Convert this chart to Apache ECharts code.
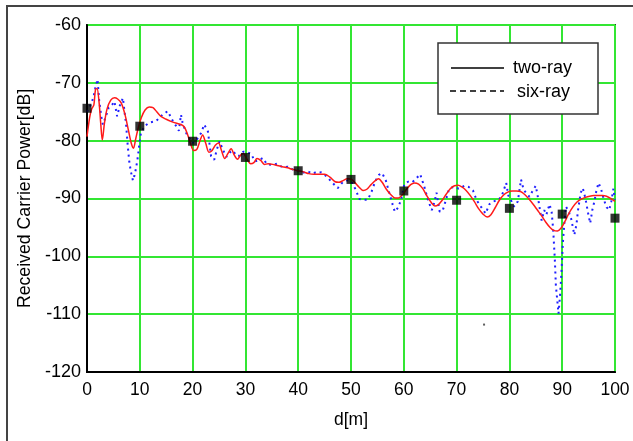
<!DOCTYPE html>
<html>
<head>
<meta charset="utf-8">
<script src="https://cdn.jsdelivr.net/npm/echarts@6/dist/echarts.min.js"></script>
<style>
html,body{margin:0;padding:0;background:#fff;}
#chart{width:633px;height:441px;}
</style>
</head>
<body>
<div id="chart"></div>
<script>
// x ticks and y ticks
const xTicks = [0, 10, 20, 30, 40, 50, 60, 70, 80, 90, 100];
const yTicks = [-120, -110, -100, -90, -80, -70, -60];
const legendNames = ['two-ray', 'six-ray'];

// two-ray model (red solid)
const twoRay = [
[0,-79.3],[0.5,-76.0],[0.9,-74.5],[1.3,-73.8],[1.6,-71.2],[1.9,-71.0],[2.3,-73.5],[2.6,-77.0],[2.9,-79.9],
[3.3,-77.0],[3.8,-74.5],[4.5,-73.0],[5.2,-72.6],[5.8,-72.8],[6.5,-73.5],[7.2,-75.5],[7.8,-78.0],[8.4,-80.5],
[8.8,-81.3],[9.2,-79.8],[9.7,-77.8],[10.3,-76.0],[11.0,-74.7],[11.8,-74.2],[12.5,-74.3],[13.2,-75.0],[14.0,-75.8],
[15.0,-76.3],[16.0,-76.7],[17.0,-77.0],[17.8,-77.2],[18.4,-77.6],[19.0,-78.8],[19.6,-80.5],[20.2,-81.7],[20.8,-81.5],
[21.4,-80.0],[21.9,-79.0],[22.5,-80.5],[23.1,-82.0],[23.6,-81.8],[24.3,-80.8],[24.9,-80.4],[25.5,-81.8],[26.1,-83.1],
[26.7,-82.2],[27.3,-81.4],[27.9,-82.5],[28.5,-83.2],[29.1,-82.5],[29.6,-82.2],[30.3,-83.2],[31.0,-84.0],[31.6,-83.8],
[32.2,-83.1],[32.9,-83.4],[33.6,-84.1],[34.3,-84.0],[35.2,-84.1],[36.0,-84.3],[37.0,-84.5],[38.0,-84.7],[39.0,-85.0],
[40.0,-85.2],[41.0,-85.4],[42.0,-85.7],[43.0,-85.8],[44.0,-85.8],[45.0,-85.8],[46.0,-86.3],[47.0,-87.1],[47.7,-87.2],
[48.5,-86.9],[49.3,-86.6],[50.1,-86.7],[50.8,-87.3],[51.5,-88.0],[52.3,-88.6],[53.0,-88.4],[53.8,-87.6],[54.6,-86.9],
[55.2,-86.6],[55.9,-87.2],[56.7,-88.4],[57.5,-89.3],[58.3,-89.9],[59.0,-89.9],[59.8,-89.3],[60.5,-88.4],[61.3,-87.6],
[62.0,-87.3],[62.8,-87.5],[63.6,-88.3],[64.4,-89.6],[65.2,-90.7],[65.9,-91.3],[66.5,-91.1],[67.2,-90.4],[68.0,-89.3],
[68.8,-88.3],[69.6,-87.8],[70.3,-87.7],[71.0,-88.0],[71.8,-88.6],[72.6,-89.5],[73.4,-90.6],[74.2,-91.8],[75.0,-92.7],
[75.8,-93.2],[76.5,-92.8],[77.3,-91.6],[78.1,-90.3],[78.9,-89.4],[79.7,-88.9],[80.5,-88.7],[81.3,-88.7],[82.1,-88.8],
[82.9,-89.3],[83.7,-90.1],[84.5,-91.0],[85.3,-92.0],[86.1,-93.0],[86.9,-94.1],[87.7,-95.0],[88.4,-95.5],[89.1,-95.6],
[89.8,-95.1],[90.5,-94.0],[91.2,-92.7],[92.0,-91.5],[92.8,-90.6],[93.6,-90.1],[94.4,-89.8],[95.2,-89.6],[96.0,-89.5],
[96.8,-89.5],[97.6,-89.5],[98.4,-89.6],[99.2,-90.0],[100,-90.5]
];

// six-ray model (blue dotted)
const sixRay = [
[0,-75.0],[0.6,-74.0],[1.2,-72.6],[1.6,-70.8],[2.0,-69.4],[2.3,-73.0],[2.7,-75.8],[3.0,-77.2],[3.5,-76.0],[4.1,-74.3],
[4.6,-74.0],[5.2,-73.2],[5.7,-75.8],[6.2,-74.0],[6.8,-72.6],[7.1,-74.9],[7.4,-77.2],[7.7,-80.7],[8.0,-83.6],[8.3,-85.3],
[8.7,-86.9],[9.0,-86.0],[9.3,-84.7],[9.6,-83.0],[9.9,-80.7],[10.2,-78.7],[10.9,-77.5],[11.8,-76.9],[13.1,-76.6],[14.3,-75.5],
[15.3,-74.9],[16.2,-76.5],[16.9,-77.5],[17.4,-78.3],[17.8,-75.5],[18.1,-76.9],[18.8,-78.7],[19.4,-79.6],[20.0,-80.4],[20.8,-79.8],
[21.6,-78.7],[22.2,-77.2],[22.9,-78.4],[23.5,-82.7],[24.1,-83.3],[24.6,-81.5],[25.1,-80.1],[25.7,-81.5],[26.4,-82.8],[27.1,-82.0],
[27.6,-81.7],[28.3,-82.6],[28.9,-82.6],[29.6,-81.9],[30.4,-82.0],[31.1,-82.3],[31.8,-83.6],[32.5,-83.4],[33.3,-83.0],[34.1,-84.1],
[35.0,-84.2],[36.0,-84.0],[37.0,-84.6],[38.0,-84.5],[39.0,-85.0],[40.0,-85.2],[41.0,-85.5],[41.8,-85.3],[42.7,-85.7],[43.5,-85.4],
[44.4,-85.5],[45.4,-86.2],[46.5,-87.3],[47.5,-88.2],[48.4,-87.2],[49.5,-86.8],[50.3,-87.4],[50.9,-88.5],[51.6,-90.1],[52.5,-90.2],
[53.2,-90.2],[53.9,-88.8],[54.6,-87.0],[55.3,-85.9],[55.9,-85.6],[56.6,-86.9],[57.3,-89.2],[57.9,-91.1],[58.3,-92.3],[58.9,-91.6],
[59.5,-90.2],[60.1,-87.5],[60.8,-87.1],[61.6,-87.2],[62.4,-86.5],[63.1,-85.8],[63.9,-88.0],[64.6,-90.3],[65.3,-92.0],[65.8,-90.6],
[66.2,-89.0],[66.8,-92.3],[67.4,-92.0],[67.9,-90.5],[68.6,-88.3],[69.4,-88.0],[70.4,-88.3],[71.5,-87.8],[72.3,-88.0],[73.1,-88.6],
[73.8,-90.3],[74.6,-91.4],[75.5,-92.6],[76.2,-91.0],[77.0,-90.5],[77.8,-90.3],[78.5,-89.7],[79.4,-87.3],[79.8,-89.5],[80.4,-90.5],
[80.9,-91.4],[81.6,-90.5],[82.2,-86.7],[82.7,-88.5],[83.3,-89.2],[83.8,-89.7],[84.5,-88.5],[85.0,-87.8],[85.4,-89.8],[85.8,-92.0],
[86.1,-93.8],[86.6,-92.0],[87.0,-92.8],[87.6,-91.0],[88.0,-92.3],[88.3,-95.5],[88.6,-100.5],[88.8,-105.0],[89.3,-109.9],[89.6,-106.7],
[89.9,-102.1],[90.1,-98.0],[90.4,-94.3],[90.7,-91.4],[91.2,-92.2],[91.7,-93.5],[92.3,-96.3],[92.7,-94.5],[93.0,-92.0],[93.5,-89.0],
[93.9,-88.2],[94.4,-90.0],[94.9,-92.5],[95.3,-94.3],[95.7,-92.0],[96.1,-90.5],[96.5,-88.5],[96.9,-87.3],[97.4,-88.5],[97.9,-90.2],
[98.4,-91.5],[98.9,-92.0],[99.3,-90.5],[99.7,-88.3],[100,-90.2]
];

// measured values (black squares)
const measured = [
[0,-74.4],[10,-77.5],[20,-80.1],[30,-82.9],[40,-85.2],[50,-86.7],[60,-88.7],[70,-90.3],[80,-91.7],[90,-92.7],[100,-93.4]
];

// stray dot in the picture
const strayDot = [[75.2,-111.8]];

const FONT = '"Liberation Sans", Arial, sans-serif';
const chart = echarts.init(document.getElementById('chart'), null, {renderer: 'canvas'});
chart.setOption({
  backgroundColor: '#fff',
  animation: false,
  graphic: [
    {type: 'rect', z: -10, shape: {x: 7, y: 6, width: 700, height: 500},
     style: {fill: 'none', stroke: '#444', lineWidth: 2}},
    // legend box
    {type: 'rect', z: 20, shape: {x: 438, y: 43, width: 160, height: 71},
     style: {fill: '#fff', stroke: '#333', lineWidth: 1.5}},
    {type: 'line', z: 21, shape: {x1: 451, y1: 68, x2: 504, y2: 68},
     style: {stroke: '#000', lineWidth: 1.3}},
    {type: 'line', z: 21, shape: {x1: 450, y1: 91, x2: 504, y2: 91},
     style: {stroke: '#000', lineWidth: 1.3, lineDash: [6, 4]}},
    {type: 'text', z: 21, x: 513, y: 68,
     style: {text: legendNames[0], font: '18px ' + FONT, fill: '#000', textVerticalAlign: 'middle', verticalAlign: 'middle'}},
    {type: 'text', z: 21, x: 517, y: 92,
     style: {text: legendNames[1], font: '18px ' + FONT, fill: '#000', textVerticalAlign: 'middle', verticalAlign: 'middle'}}
  ],
  grid: {
    left: 87, right: 18, top: 25, bottom: 69,
    show: true, borderColor: '#333', borderWidth: 2, backgroundColor: '#fff'
  },
  xAxis: {
    type: 'value', min: xTicks[0], max: xTicks[xTicks.length - 1], interval: 10,
    name: 'd[m]', nameLocation: 'middle', nameGap: 39,
    nameTextStyle: {fontFamily: FONT, fontSize: 17.5, color: '#000'},
    axisLine: {show: true, onZero: false, lineStyle: {color: '#000', width: 2}},
    axisTick: {show: false},
    axisLabel: {fontFamily: FONT, fontSize: 17.5, color: '#000', margin: 9},
    splitLine: {show: true, lineStyle: {color: '#33e633', width: 2}}
  },
  yAxis: {
    type: 'value', min: yTicks[0], max: yTicks[yTicks.length - 1], interval: 10,
    name: 'Received Carrier Power[dB]', nameLocation: 'middle', nameGap: 51,
    nameTextStyle: {fontFamily: FONT, fontSize: 17.7, color: '#000'},
    axisLine: {show: true, onZero: false, lineStyle: {color: '#000', width: 2}},
    axisTick: {show: false},
    axisLabel: {fontFamily: FONT, fontSize: 18, color: '#000', margin: 6},
    splitLine: {show: true, lineStyle: {color: '#33e633', width: 2}}
  },
  series: [
    {
      name: legendNames[1], type: 'line', data: sixRay, symbol: 'none', z: 2,
      lineStyle: {color: '#1f1fff', width: 2, type: [2, 4]}, itemStyle: {color: '#1f1fff'}
    },
    {
      name: legendNames[0], type: 'line', data: twoRay, symbol: 'none', smooth: 0.3, z: 3,
      lineStyle: {color: '#ff1a1a', width: 1.5}, itemStyle: {color: '#ff1a1a'}
    },
    {
      name: 'measured', type: 'scatter', data: measured, symbol: 'rect', symbolSize: 9, z: 5,
      itemStyle: {color: '#000'}, clip: false
    },
    {
      name: 'dot', type: 'scatter', data: strayDot, symbol: 'rect', symbolSize: 2, z: 5,
      itemStyle: {color: '#333'}
    }
  ]
});
</script>
</body>
</html>
